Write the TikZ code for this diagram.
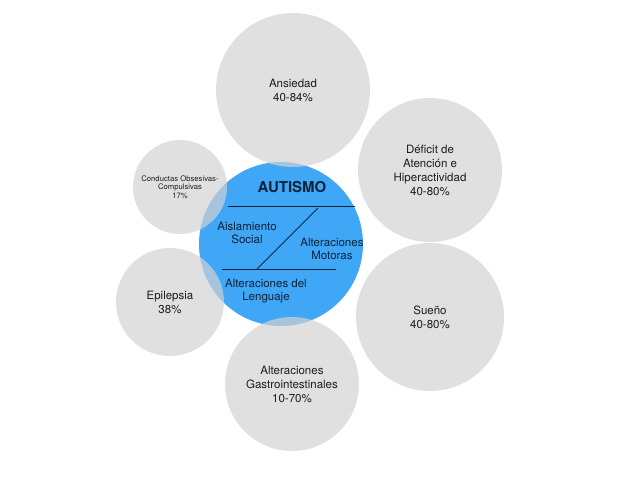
\documentclass[tikz,border=0pt]{standalone}
\usepackage{fontspec}
\setmainfont{TeX Gyre Heros}
\usetikzlibrary{positioning}
\definecolor{ink}{HTML}{1C1C1C}
\definecolor{navy}{HTML}{0C2238}
\definecolor{sky}{HTML}{3FA7F5}
\definecolor{bubblegrey}{HTML}{D3D3D3}
\tikzset{
  core/.style={circle,fill=sky,minimum size=164pt,inner sep=0pt},
  bubble/.style={circle,fill=bubblegrey,fill opacity=0.7,text opacity=1,minimum size=#1,inner sep=0pt,align=center,text=ink,font=\fontsize{11.5}{14}\selectfont},
  coretext/.style={align=center,text=navy,inner sep=0pt,font=\fontsize{11.5}{13.5}\selectfont},
  divider/.style={line width=0.8pt,draw=navy}
}

\begin{document}
\begin{tikzpicture}[x=1pt,y=-1pt]
    \useasboundingbox (0,0) rectangle (640,480);
    \node[core] (autismo) at (281,244) {};
    \node[bubble=154pt] (ansiedad) at (293,90) {Ansiedad\\40-84\%};
    \node[bubble=144pt] (deficit) at (430,170) {Déficit de\\Atención e\\Hiperactividad\\40-80\%};
    \node[bubble=94pt,font=\fontsize{7.7}{8.5}\selectfont] (conductas) at (180,187) {Conductas Obsesivas-\\Compulsivas\\17\%};
    \node[bubble=108pt] (epilepsia) at (170,302) {Epilepsia\\38\%};
    \node[bubble=148pt] (sueno) at (430,317) {Sueño\\40-80\%};
    \node[bubble=134pt] (gastro) at (292,384) {Alteraciones\\Gastrointestinales\\10-70\%};
    % texto del circulo central
    \node[coretext,font=\fontsize{15}{17}\selectfont\bfseries] (titulo) at (292,187) {AUTISMO};
    \node[coretext] (social) at (247,233) {Aislamiento\\Social};
    \node[coretext] (motoras) at (332,249) {Alteraciones\\Motoras};
    \node[coretext] (lenguaje) at (266,291) {Alteraciones del\\Lenguaje};
    \draw[divider] (228,206) -- (355,206);
    \draw[divider] (222,269) -- (336,269);
    \draw[divider] (318,208) -- (257,269);
\end{tikzpicture}
\end{document}
